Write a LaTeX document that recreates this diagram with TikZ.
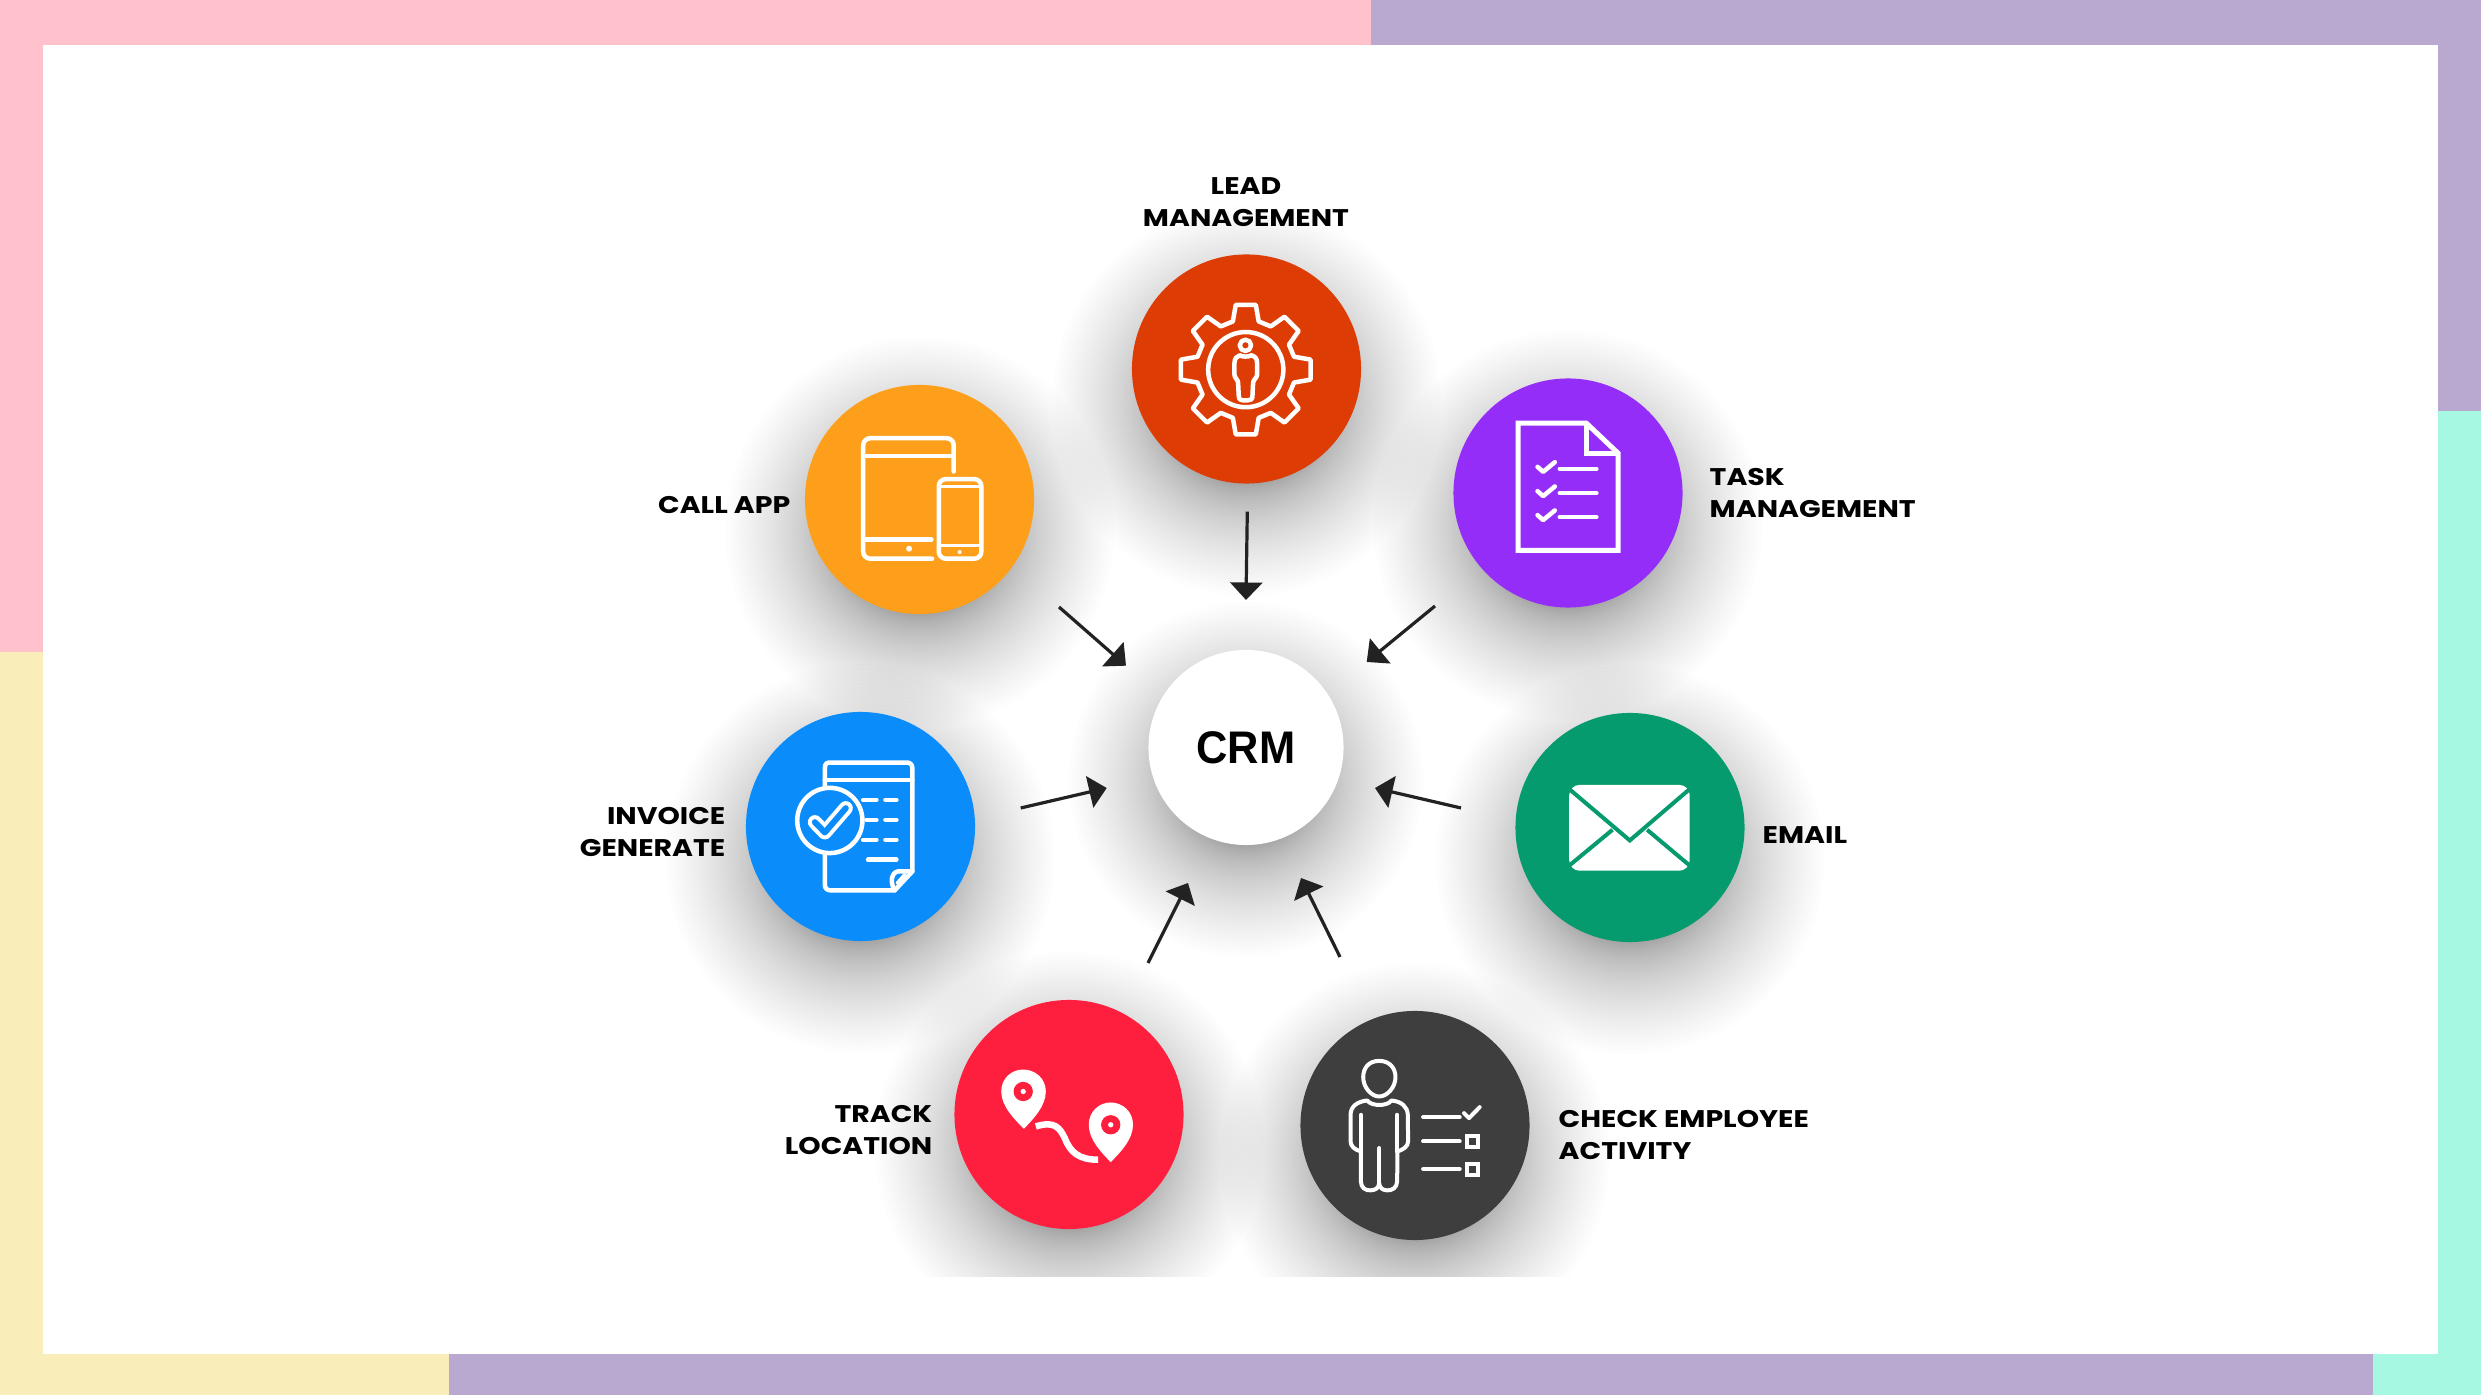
\documentclass[tikz,border=0pt]{standalone}
\usepackage{fontspec}
\setmainfont{Poppins}[BoldFont={Poppins Bold},BoldFeatures={FakeStretch=1.18}]
\newfontfamily\crmfont{Liberation Sans}[FakeStretch=0.95]
\usetikzlibrary{arrows.meta}
\definecolor{framepink}{HTML}{FFC1CC}
\definecolor{framepurple}{HTML}{B9A9D1}
\definecolor{frameteal}{HTML}{A6F8E2}
\definecolor{frameyellow}{HTML}{F9EDB9}
\definecolor{cLead}{HTML}{DD3D05}
\definecolor{cCall}{HTML}{FE9F1B}
\definecolor{cTask}{HTML}{952DF8}
\definecolor{cInvoice}{HTML}{0A8DFA}
\definecolor{cTrack}{HTML}{FE1F3F}
\definecolor{cCheck}{HTML}{3E3E3E}
\definecolor{cEmail}{HTML}{069A6F}
\definecolor{arrowink}{HTML}{222222}
\tikzset{
  x=0.01cm, y=-0.01cm,
  disc/.style={circle, inner sep=0pt, minimum size=2.29cm, draw=none},
  lbl/.style={font=\fontsize{6.85pt}{9pt}\selectfont\bfseries, text=black, inner sep=0pt},
  inarrow/.style={draw=arrowink, line width=0.032cm, -{Triangle[length=0.175cm,width=0.32cm]}},
  zoomed/.style={x=0.0033333cm, y=-0.0033333cm},
  ink/.style={draw=white, line width=0.045cm, line cap=round, line join=round},
  thinink/.style={draw=white, line width=0.04cm, line cap=round, line join=round},
}
\newcommand{\softshadow}[3]{% x, y, r
  \foreach \i in {0,...,59}{
    \pgfmathsetmacro{\rr}{#3-38+118*pow(\i/59,2)}
    \fill[black, opacity=0.0075] (#1,#2+32) circle ({\rr});
  }
}
\begin{document}
\begin{tikzpicture}
\useasboundingbox (0,0) rectangle (2481,1395);
% frame
\fill[white] (0,0) rectangle (2481,1395);
\fill[framepink] (0,0) rectangle (1371,45);
\fill[framepink] (0,0) rectangle (43,652);
\fill[framepurple] (1371,0) rectangle (2481,45);
\fill[framepurple] (2438,0) rectangle (2481,411);
\fill[frameteal] (2438,411) rectangle (2481,1395);
\fill[frameteal] (2373,1354) rectangle (2481,1395);
\fill[frameyellow] (0,652) rectangle (43,1395);
\fill[frameyellow] (0,1354) rectangle (449,1395);
\fill[framepurple] (449,1354) rectangle (2373,1395);
% shadows
\begin{scope}
\clip (43,45) rectangle (2438,1277);
\softshadow{1246.5}{369}{114.5}
\softshadow{919.5}{499.5}{114.5}
\softshadow{1568}{493}{114.5}
\softshadow{860.5}{826.5}{114.5}
\softshadow{1069}{1114.5}{114.5}
\softshadow{1415}{1125.5}{114.5}
\softshadow{1630}{827.5}{114.5}
\softshadow{1246}{747.5}{97.5}
\end{scope}
% discs
\node[disc, fill=cLead] (lead) at (1246.5,369) {};
\node[disc, fill=cCall] (callapp) at (919.5,499.5) {};
\node[disc, fill=cTask] (task) at (1568,493) {};
\node[disc, fill=cInvoice] (invoice) at (860.5,826.5) {};
\node[disc, fill=cTrack] (track) at (1069,1114.5) {};
\node[disc, fill=cCheck] (check) at (1415,1125.5) {};
\node[disc, fill=cEmail] (email) at (1630,827.5) {};
\node[disc, fill=white, minimum size=1.95cm, font=\crmfont\fontsize{13pt}{14pt}\selectfont\bfseries] (crm) at (1246,747.5) {CRM};
% labels
\node[lbl, align=center] (tlead) at (1246,202) {LEAD\\MANAGEMENT};
\node[lbl, anchor=east] (tcall) at (791,505) {CALL APP};
\node[lbl, anchor=west, align=left] (ttask) at (1709,493) {TASK\\MANAGEMENT};
\node[lbl, anchor=west] (temail) at (1762,835) {EMAIL};
\node[lbl, anchor=east, align=right] (tinvoice) at (726,832) {INVOICE\\GENERATE};
\node[lbl, anchor=east, align=right] (ttrack) at (933,1130) {TRACK\\LOCATION};
\node[lbl, anchor=west, align=left] (tcheck) at (1558,1135) {CHECK EMPLOYEE\\ACTIVITY};
% connectors
\coordinate (fromLead) at (1247.3,511.7); \coordinate (toLead) at (1246,600);
\coordinate (fromCall) at (1059,607); \coordinate (toCall) at (1126,665.7);
\coordinate (fromTask) at (1435,606); \coordinate (toTask) at (1366.7,662);
\coordinate (fromInvoice) at (1020.7,808); \coordinate (toInvoice) at (1106.7,788);
\coordinate (fromEmail) at (1461,808); \coordinate (toEmail) at (1375,788);
\coordinate (fromTrack) at (1148,963); \coordinate (toTrack) at (1188,883);
\coordinate (fromCheck) at (1340,957); \coordinate (toCheck) at (1301,878);
\draw[inarrow] (fromLead) -- (toLead);
\draw[inarrow] (fromCall) -- (toCall);
\draw[inarrow] (fromTask) -- (toTask);
\draw[inarrow] (fromInvoice) -- (toInvoice);
\draw[inarrow] (fromEmail) -- (toEmail);
\draw[inarrow] (fromTrack) -- (toTrack);
\draw[inarrow] (fromCheck) -- (toCheck);
% icon: lead gear
\begin{scope}[shift={(1100,150)}, zoomed]
  \begin{scope}[shift={(438,660)}]
    \draw[ink] (-15:150) foreach \a in {0,45,...,315}{ -- (\a-15:150) -- (\a-8.8:197) -- (\a+8.8:197) -- (\a+15:150) } -- cycle;
  \end{scope}
  \draw[ink] (438,660) circle (113);
  \draw[ink] (437,587) circle (17);
  \draw[ink] (420,617) .. controls (428,622) and (447,622) .. (455,617)
     .. controls (465,620) and (472,625) .. (472,640) -- (472,675)
     .. controls (472,685) and (460,690) .. (460,700) -- (458,740) .. controls (458,750) and (452,752) .. (445,752)
     -- (428,752) .. controls (420,752) and (417,748) .. (417,740) -- (415,700)
     .. controls (415,690) and (404,685) .. (404,675) -- (404,640) .. controls (404,625) and (412,620) .. (420,617) -- cycle;
\end{scope}
% icon: call app
\begin{scope}[shift={(780,370)}, zoomed]
  \draw[ink, rounded corners=2pt] (522,305) -- (522,205) -- (250,205) -- (250,567) -- (457,567);
  \draw[ink] (250,258) -- (522,258);
  \draw[ink] (250,510) -- (455,510);
  \fill[white] (388,537) circle (9);
  \draw[ink, rounded corners=2pt] (477,328) rectangle (605,567);
  \draw[ink, line width=0.03cm] (477,350) -- (605,350);
  \draw[ink, line width=0.03cm] (477,528) -- (605,528);
  \fill[white] (540,547) circle (6);
\end{scope}
% icon: task
\begin{scope}[shift={(1430,370)}, zoomed]
  \draw[ink, line width=0.05cm, line cap=butt, line join=miter] (265,160) -- (470,160) -- (565,250) -- (565,542) -- (265,542) -- cycle;
  \draw[ink, line width=0.05cm, line cap=butt, line join=miter] (470,160) -- (470,250) -- (565,250);
  \foreach \yy in {297,370,442}{
    \draw[ink] (323,\yy-6) -- (340,\yy+9) -- (375,\yy-20);
    \draw[ink] (390,\yy) -- (500,\yy);
  }
\end{scope}
% icon: invoice
\begin{scope}[shift={(720,700)}, zoomed]
  \draw[ink] (315,260) -- (315,205) .. controls (315,190) and (322,188) .. (332,188) -- (562,188) .. controls (572,188) and (578,195) .. (578,205) -- (578,515) -- (525,572) -- (332,572) .. controls (322,572) and (315,566) .. (315,555) -- (315,460);
  \draw[ink] (315,240) -- (578,240);
  \draw[ink] (578,515) -- (535,515) .. controls (515,518) and (510,548) .. (525,572);
  \draw[ink, line width=0.03cm] (532,550) -- (555,524);
  \draw[ink] (430,300) -- (470,300); \draw[ink] (497,300) -- (530,300);
  \draw[ink] (440,360) -- (470,360); \draw[ink] (497,360) -- (530,360);
  \draw[ink] (430,420) -- (470,420); \draw[ink] (497,420) -- (530,420);
  \draw[ink] (445,480) -- (530,480);
  \fill[cInvoice] (330,362) circle (98);
  \draw[ink] (330,362) circle (98);
  \draw[draw=white, line width=0.14cm, line join=round, line cap=round] (285,367) -- (315,398) -- (378,325);
  \draw[draw=cInvoice, line width=0.06cm, line join=round, line cap=round] (285,367) -- (315,398) -- (378,325);
\end{scope}
% icon: track
\begin{scope}[shift={(940,990)}, zoomed]
  \fill[white] (252,417) .. controls (225,390) and (184,350) .. (184,305) .. controls (184,265) and (215,239) .. (250,239) .. controls (285,239) and (318,265) .. (318,305) .. controls (318,350) and (278,390) .. (252,417) -- cycle;
  \fill[cTrack] (250,305) circle (29);
  \fill[white] (250,305) circle (8);
  \fill[white] (513,517) .. controls (486,490) and (447,450) .. (447,405) .. controls (447,365) and (478,338) .. (513,338) .. controls (548,338) and (580,365) .. (580,405) .. controls (580,450) and (540,490) .. (513,517) -- cycle;
  \fill[cTrack] (513,405) circle (29);
  \fill[white] (513,405) circle (8);
  \draw[draw=white, line width=0.065cm] (288,410) .. controls (345,392) and (360,415) .. (375,445) .. controls (392,490) and (420,510) .. (475,510);
\end{scope}
% icon: check employee
\begin{scope}[shift={(1280,1000)}, zoomed]
  \draw[thinink] (298,183) .. controls (330,183) and (347,205) .. (347,232) .. controls (347,262) and (322,290) .. (298,290) .. controls (274,290) and (250,262) .. (250,232) .. controls (250,205) and (266,183) .. (298,183) -- cycle;
  \draw[thinink] (262,302) .. controls (275,320) and (322,320) .. (335,302) .. controls (365,305) and (383,320) .. (384,345) -- (385,425) .. controls (385,440) and (370,450) .. (353,455) -- (352,545) .. controls (352,565) and (335,573) .. (322,572) .. controls (310,572) and (298,565) .. (298,550) .. controls (298,565) and (285,572) .. (272,572) .. controls (258,573) and (243,565) .. (243,545) -- (243,455) .. controls (225,450) and (212,440) .. (212,425) -- (212,345) .. controls (212,320) and (232,305) .. (262,302) -- cycle;
  \draw[thinink] (243,345) -- (243,455);
  \draw[thinink] (352,345) -- (352,455);
  \draw[thinink] (298,445) -- (298,550);
  \draw[thinink] (430,352) -- (540,352);
  \draw[thinink] (430,425) -- (540,425);
  \draw[thinink] (430,508) -- (540,508);
  \draw[thinink] (553,340) -- (568,355) -- (600,322);
  \draw[thinink, line cap=butt, line join=miter] (563,410) rectangle (595,442);
  \draw[thinink, line cap=butt, line join=miter] (563,493) rectangle (595,525);
\end{scope}
% icon: email
\begin{scope}[shift={(1500,700)}, zoomed]
  \fill[white, rounded corners=3pt] (208,255) rectangle (570,513);
  \draw[draw=cEmail, line width=0.04cm, line cap=butt, line join=miter] (205,265) -- (390,422) -- (573,265);
  \draw[draw=cEmail, line width=0.04cm, line cap=butt] (205,500) -- (338,390);
  \draw[draw=cEmail, line width=0.04cm, line cap=butt] (573,500) -- (442,390);
\end{scope}
\end{tikzpicture}
\end{document}
